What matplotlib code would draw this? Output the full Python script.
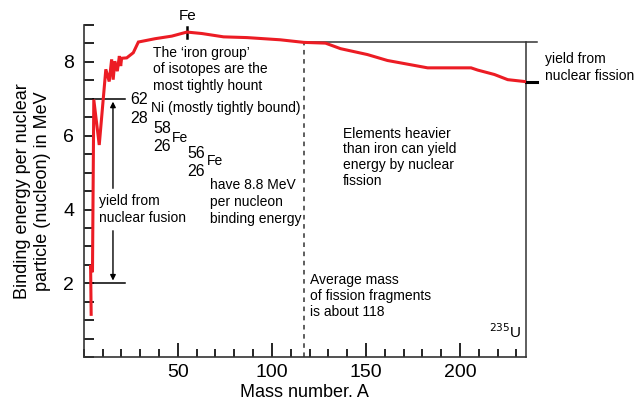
import matplotlib.pyplot as plt
from matplotlib.ticker import MultipleLocator

# binding energy curve
mass = [3.9, 3.6, 4.6, 5.3, 8.2, 11.7, 13.5, 14.8, 15.6, 16.5, 17.8, 18.9, 19.6, 20.1,
        22.8, 26.3, 29.0, 37.9, 46.8, 54.8, 62.8, 74.3, 86.8, 104.5, 117.0, 128.5,
        136.5, 150.8, 161.4, 182.8, 205.9, 209.4, 218.3, 225.4, 234.3]
energy = [1.16, 2.5, 2.3, 6.98, 5.75, 7.8, 7.47, 8.07, 7.52, 8.02, 7.75, 8.16, 7.89, 8.1,
          8.11, 8.25, 8.54, 8.63, 8.70, 8.81, 8.77, 8.68, 8.66, 8.60, 8.53, 8.51,
          8.36, 8.20, 8.04, 7.84, 7.84, 7.78, 7.66, 7.52, 7.47]

x_ticks = [50, 100, 150, 200]
y_ticks = [2, 4, 6, 8]
fusion_top, fusion_bottom = 7.0, 2.0
fission_top, fission_bottom = 8.53, 7.47
fission_avg = 118
a_iron, a_uranium = 55, 235

plt.rcParams['font.family'] = ['Liberation Sans', 'DejaVu Sans']
FS = 10

fig = plt.figure(figsize=(6.35, 4.04), dpi=100)
ax = fig.add_axes([0.132, 0.116, 0.696, 0.822])

ax.plot(mass, energy, color='#ec1c24', lw=2.2, solid_joinstyle='miter', zorder=3)

ax.set_xlim(0, 235)
ax.set_ylim(0, 9)
ax.spines['top'].set_visible(False)
ax.spines['right'].set_visible(False)
for s in ['left', 'bottom']:
    ax.spines[s].set_linewidth(1.2)
    ax.spines[s].set_color('#333333')

ax.set_xticks(x_ticks)
ax.xaxis.set_minor_locator(MultipleLocator(10))
ax.set_yticks(y_ticks)
ax.yaxis.set_minor_locator(MultipleLocator(0.5))
ax.tick_params(which='major', axis='x', direction='in', length=10, width=1.2, labelsize=14, pad=5)
ax.tick_params(which='minor', axis='x', direction='in', length=6, width=1.2)
ax.tick_params(which='both', axis='y', direction='in', length=7, width=1.2, labelsize=14, pad=7)

ax.set_xlabel('Mass number. A', fontsize=13, labelpad=2)
ax.set_ylabel('Binding energy per nuclear\nparticle (nucleon) in MeV', fontsize=13, labelpad=9)

# fusion yield
ax.plot([5, 22], [fusion_top, fusion_top], color='black', lw=1.1)
ax.plot([5, 22], [fusion_bottom, fusion_bottom], color='black', lw=1.1)
ax.annotate('', xy=(15.5, fusion_top), xytext=(15.5, 4.5),
            arrowprops=dict(arrowstyle='-|>', color='black', lw=1, mutation_scale=8))
ax.annotate('', xy=(15.5, fusion_bottom), xytext=(15.5, 3.5),
            arrowprops=dict(arrowstyle='-|>', color='black', lw=1, mutation_scale=8))
ax.text(8, 4.0, 'yield from\nnuclear fusion', fontsize=FS, va='center', ha='left')

# fission yield
ax.plot([fission_avg - 1, 241], [fission_top, fission_top], color='#333333', lw=1.1, clip_on=False)
ax.plot([a_uranium, a_uranium], [0, fission_top], color='#333333', lw=1.1, clip_on=False)
ax.plot([a_uranium, 241], [fission_bottom, fission_bottom], color='black', lw=2.2, clip_on=False)
ax.plot([fission_avg - 1, fission_avg - 1], [0, fission_top], color='#333333', lw=1.1,
        ls=(0, (3, 3)))
ax.text(245, 7.85, 'yield from\nnuclear fission', fontsize=FS, va='center', ha='left')

# iron peak
ax.plot([a_iron, a_iron], [8.65, 8.95], color='black', lw=1.8)
ax.text(a_iron, 9.05, 'Fe', fontsize=11, ha='center', va='bottom')

ax.text(36.8, 7.8, 'The ‘iron group’\nof isotopes are the\nmost tightly hount',
        fontsize=FS, va='center', ha='left', linespacing=1.25)
ax.text(24.5, 6.97, '62', fontsize=11.5, va='center', ha='left')
ax.text(24.5, 6.48, '28', fontsize=11.5, va='center', ha='left')
ax.text(35.5, 6.75, 'Ni (mostly tightly bound)', fontsize=FS, va='center', ha='left')
ax.text(36.8, 6.2, '58', fontsize=11.5, va='center', ha='left')
ax.text(36.8, 5.7, '26', fontsize=11.5, va='center', ha='left')
ax.text(46.8, 5.94, 'Fe', fontsize=FS, va='center', ha='left')
ax.text(54.8, 5.53, '56', fontsize=11.5, va='center', ha='left')
ax.text(54.8, 5.04, '26', fontsize=11.5, va='center', ha='left')
ax.text(65.5, 5.31, 'Fe', fontsize=FS, va='center', ha='left')
ax.text(67, 4.2, 'have 8.8 MeV\nper nucleon\nbinding energy', fontsize=FS,
        va='center', ha='left', linespacing=1.25)

ax.text(137.6, 5.42, 'Elements heavier\nthan iron can yield\nenergy by nuclear\nfission',
        fontsize=FS, va='center', ha='left', linespacing=1.15)
ax.text(120, 1.66, 'Average mass\nof fission fragments\nis about 118', fontsize=FS,
        va='center', ha='left', linespacing=1.15)
ax.text(215.5, 0.7, r'$^{235}$U', fontsize=11, va='center', ha='left')

fig.savefig('out.png', dpi=100)
